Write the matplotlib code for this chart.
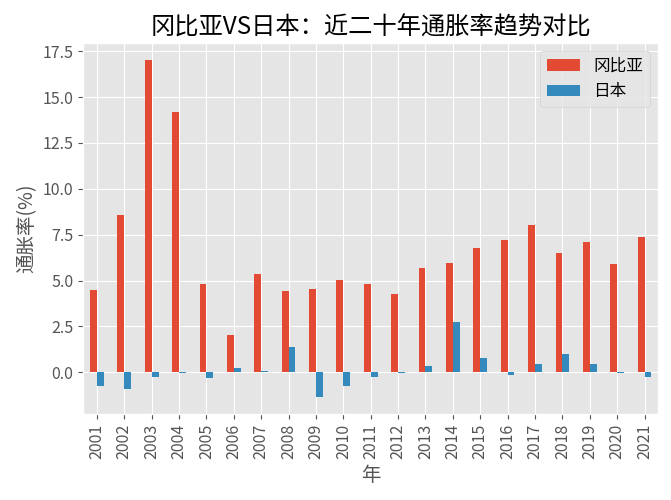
import matplotlib
matplotlib.use('Agg')
import matplotlib.pyplot as plt
import pandas as pd

years = list(range(2001, 2022))
gambia = [4.49, 8.60, 17.03, 14.21, 4.82, 2.05, 5.37, 4.45, 4.57, 5.05, 4.80,
          4.25, 5.70, 5.95, 6.79, 7.23, 8.03, 6.52, 7.10, 5.92, 7.36]
japan = [-0.74, -0.92, -0.26, -0.01, -0.28, 0.25, 0.06, 1.38, -1.35, -0.73, -0.27,
         -0.05, 0.35, 2.76, 0.80, -0.13, 0.48, 0.99, 0.47, -0.03, -0.23]

plt.style.use('ggplot')
plt.rcParams['font.family'] = ['Noto Sans CJK SC', 'DejaVu Sans']
plt.rcParams['axes.unicode_minus'] = False

df = pd.DataFrame({'冈比亚': gambia, '日本': japan}, index=years)

fig, ax = plt.subplots(figsize=(6.71, 5), dpi=100)
df.plot(kind='bar', ax=ax)
ax.set_title('冈比亚VS日本：近二十年通胀率趋势对比', fontsize=17.5)
ax.set_xlabel('年', fontsize=14)
ax.set_ylabel('通胀率(%)', fontsize=14)
ax.tick_params(labelsize=11.5)
ax.legend(fontsize=12)
plt.subplots_adjust(left=0.124, right=0.981, top=0.914, bottom=0.172)
plt.savefig('out.png', dpi=100)
